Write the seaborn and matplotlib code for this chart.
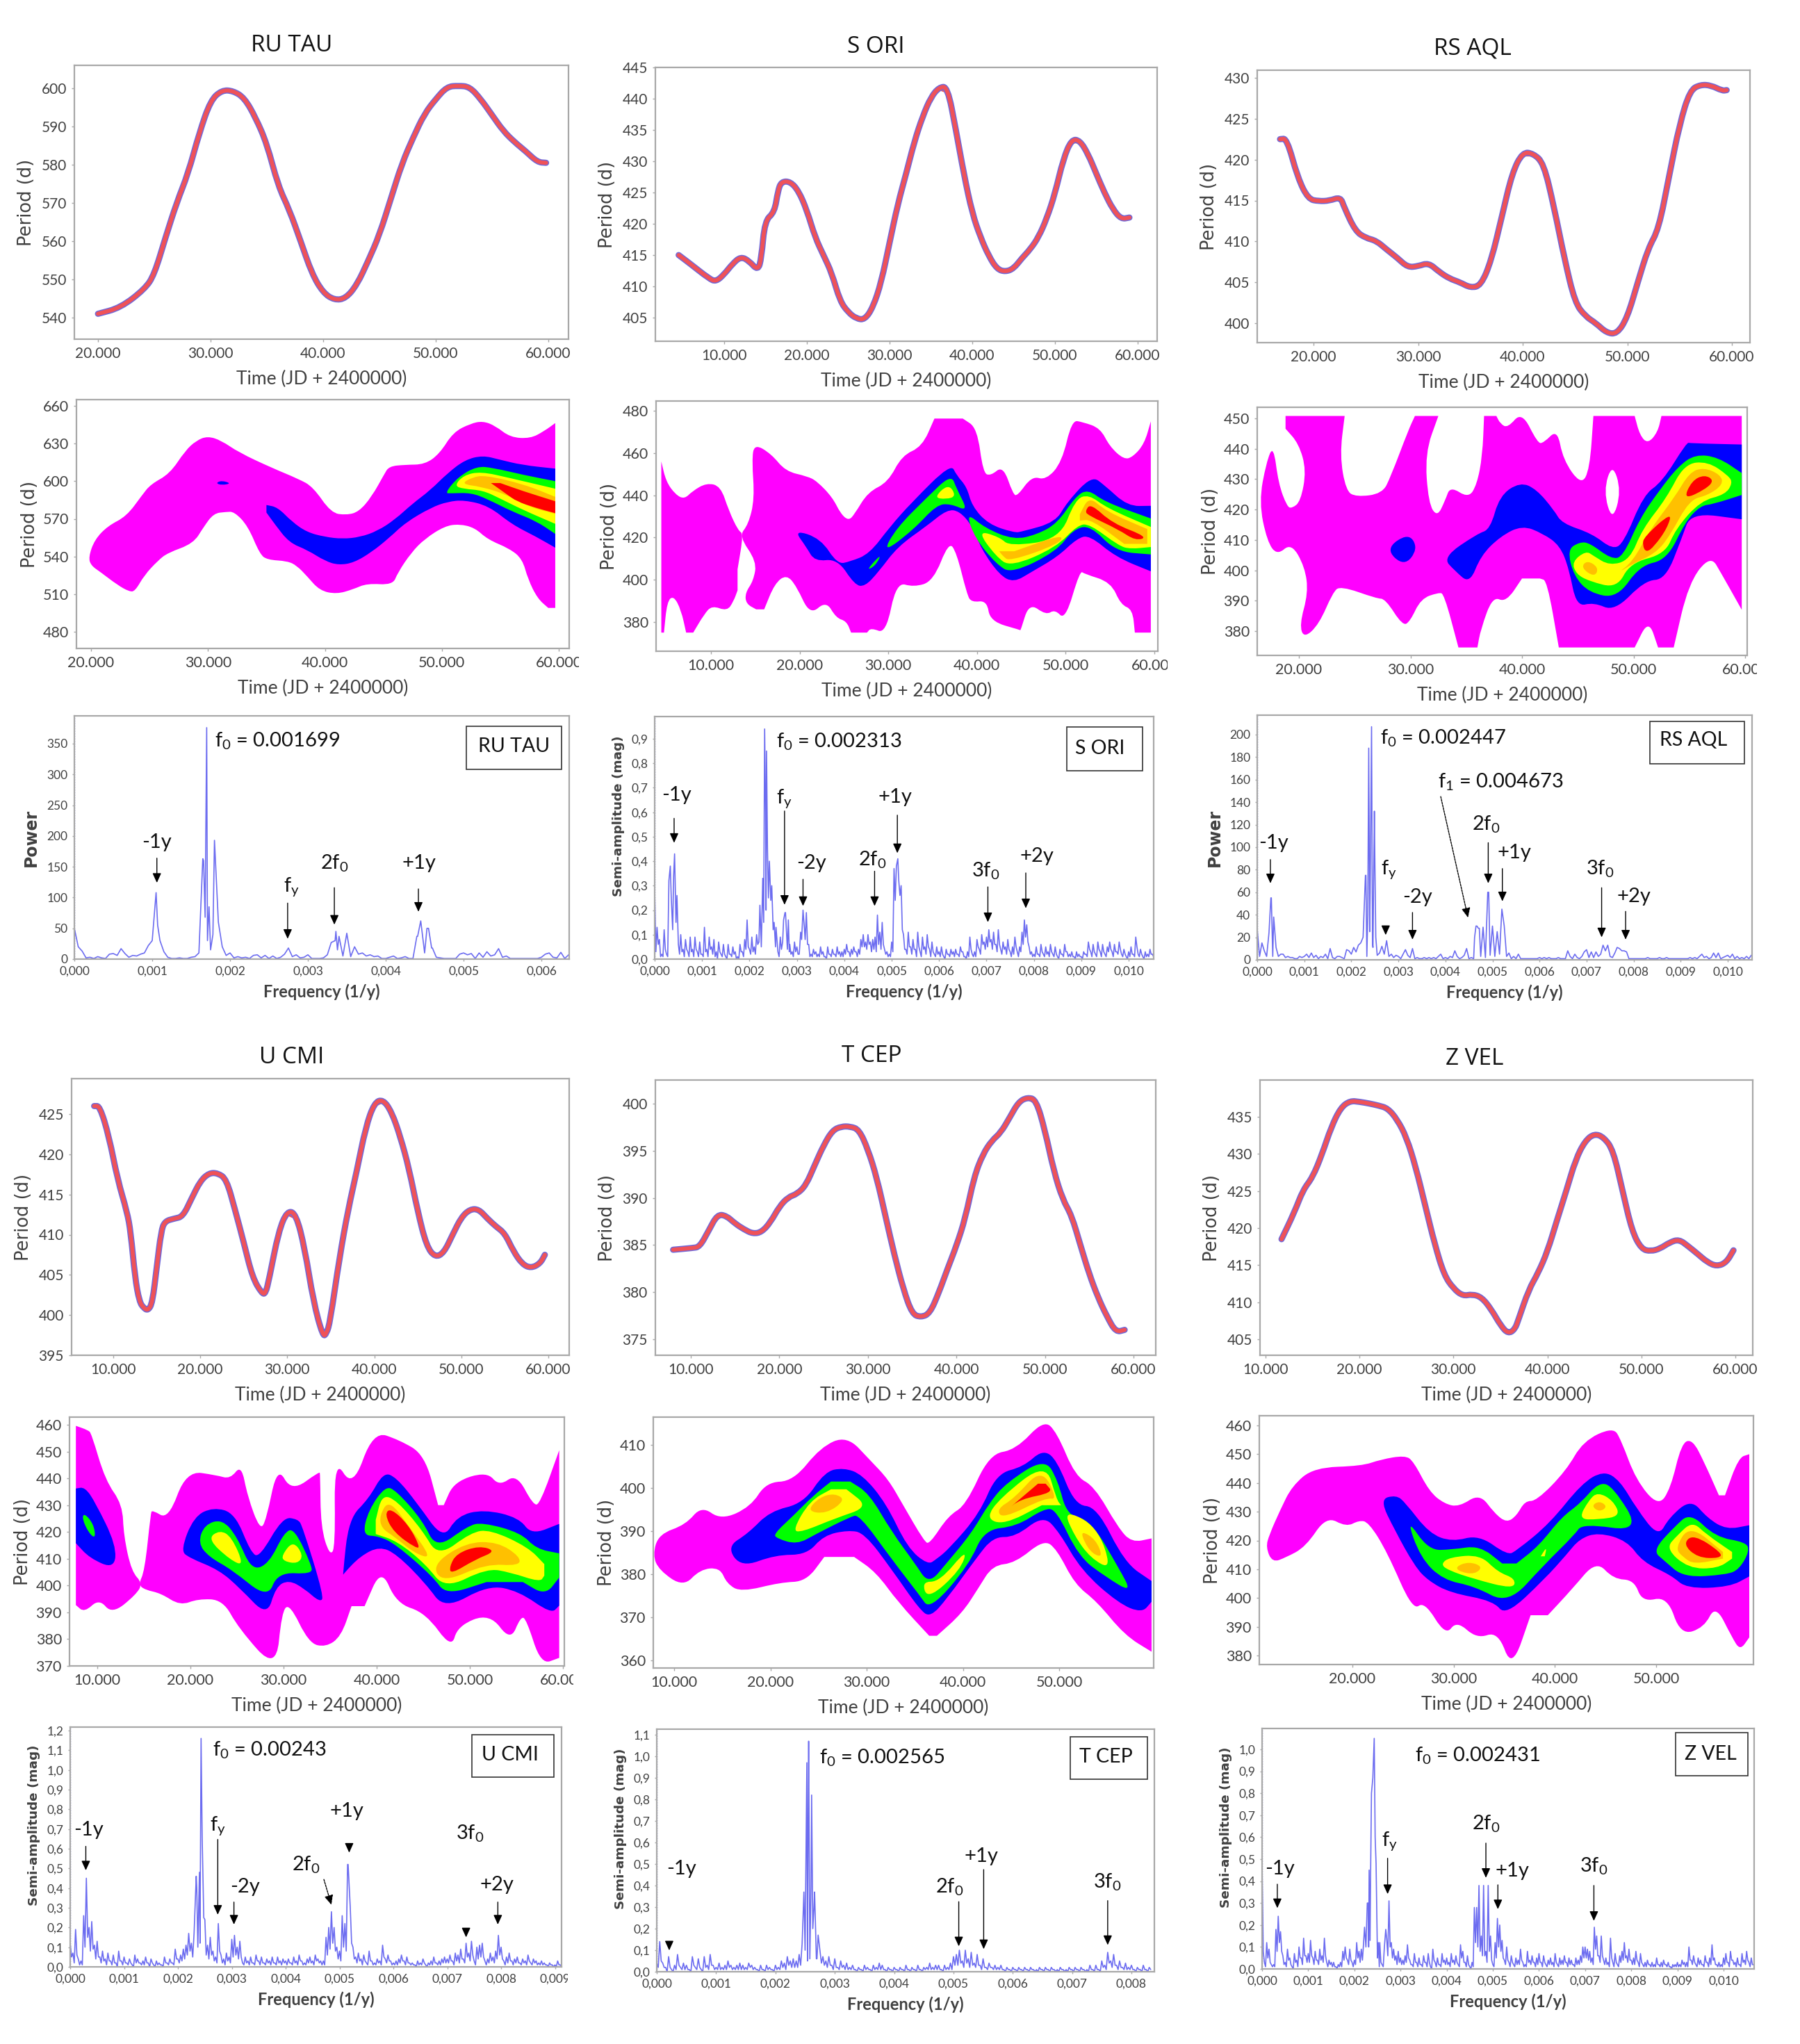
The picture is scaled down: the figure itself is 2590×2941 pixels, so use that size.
import numpy as np
import pandas as pd
import matplotlib
matplotlib.use("Agg")
import matplotlib.pyplot as plt
import seaborn as sns
from matplotlib.path import Path
from matplotlib.patches import PathPatch, Rectangle
from matplotlib.ticker import FuncFormatter

W, H = 2590, 2941
STARS = ["RU TAU", "S ORI", "RS AQL", "U CMI", "T CEP", "Z VEL"]

# ---------- O-C / period curves: (time in thousands, period) ----------
P_RU = [(20,541),(22,543),(24,547.5),(25,552),(26,561),(27,570),(28,578),(29,588),(30,596),(31,599),(32,599),(33,597),(34,592),(35,585),(36,575),(37,568),(38,560),(39,552),(40,547),(41,545),(42,545.5),(43,549),(44,555),(45,562),(46,571),(47,580),(48,587),(49,593),(50,597),(51,600),(52,600.5),(53,600),(54,597),(55,593),(56,589),(57,586),(58,583.5),(59,581),(59.8,580.5)]
P_SO = [(4.5,415),(6,413.5),(8,411.5),(9,411),(10,412),(11,413.5),(12,414.5),(13,414),(14,413),(14.5,415),(15,420),(16,422),(16.5,425),(17,426.5),(18,426.5),(19,425),(20,422),(21,418),(22,415),(23,412),(24,408),(25,406),(26,405),(27,405),(28,407),(29,411),(30,417),(31,423),(32,428),(33,433),(34,437),(35,440),(36,441.5),(37,441),(38,435),(39,428),(40,422),(41,418),(42,415),(43,413),(44,412.5),(45,413),(46,414.5),(47,416),(48,418),(49,421),(50,425),(51,430),(52,433),(53,433),(54,431),(55,428),(56,425),(57,422.5),(58,421),(59,421)]
P_RS = [(16.8,422.5),(17.5,422),(18.5,418),(19.5,415.5),(20.5,415),(21.5,415),(22.5,415.2),(23,414),(24,411.5),(25,410.5),(26,410),(27,409),(28,408),(29,407),(30,407),(31,407.2),(32,406.3),(33,405.5),(34,405),(35,404.5),(36,405),(37,408),(38,413),(39,418),(40,420.5),(41,420.5),(42,419),(43,414),(44,408),(45,403),(46,401),(47,400),(48,399),(49,399),(50,401),(51,405),(52,409),(53,412),(54,418),(55,424),(56,428),(57,429),(58,429),(59,428.5),(59.5,428.5)]
P_UC = [(7.8,426),(8.5,425.5),(9.5,422),(10.5,417),(11.5,413),(12,410),(12.5,405),(13,402),(13.5,401),(14,400.8),(14.5,402),(15,406),(15.5,410),(16,411.5),(17,412),(18,412.5),(19,414.5),(20,416.5),(21,417.5),(22,417.5),(23,416.5),(24,413),(25,409),(26,405),(27,403),(27.5,403),(28,405),(29,410),(30,412.5),(31,412),(32,408),(33,402),(34,398),(34.5,398),(35,400),(36,407),(37,413),(38,418),(39,423),(40,426),(41,426.5),(42,425),(43,422),(44,418),(45,413),(46,409),(47,407.5),(48,408),(49,410),(50,412),(51,413),(52,413),(53,412),(54,411),(55,410),(56,408),(57,406.5),(58,406),(59,406.5),(59.6,407.5)]
P_TC = [(8,384.5),(10,384.7),(11,385),(12,386.5),(13,388),(14,388),(15,387.3),(16,386.7),(17,386.3),(18,386.5),(19,387.5),(20,389),(21,390),(22,390.5),(23,391.5),(24,393.5),(25,395.5),(26,397),(27,397.5),(28,397.5),(29,397),(30,395),(31,392),(32,388),(33,384),(34,380.5),(35,378),(36,377.5),(37,378),(38,380),(39,382.5),(40,385),(41,388),(42,392),(43,394.5),(44,396),(45,397),(46,398.5),(47,400),(48,400.5),(49,400),(50,397),(51,393),(52,390),(53,388),(54,385),(55,382),(56,379.5),(57,377.5),(58,376),(59,376)]
P_ZV = [(11.7,418.5),(13,422),(14,425),(15,427),(16,430),(17,433.5),(18,436),(19,437),(20,437),(21,436.8),(22,436.5),(23,436),(24,434.5),(25,432),(26,428),(27,423),(28,418),(29,414),(30,412),(31,411),(32,411),(33,410.5),(34,409),(35,407),(35.8,406),(36.5,406.5),(37,408),(38,411.5),(39,414),(40,417),(41,421),(42,425),(43,429),(44,431.5),(45,432.5),(46,432),(47,430),(48,425),(49,420),(50,417.5),(51,417),(52,417.3),(53,418),(54,418.3),(55,417.5),(56,416.5),(57,415.5),(58,415),(59,415.5),(59.8,417)]

# ---------- wavelet map contours: (time in thousands, period), per level ----------
M, B, G, Y, O, R, X = "#ff00ff", "#0000ff", "#00ff00", "#ffff00", "#ffc000", "#ff0000", "#ffffff"
W_RU = [
 (M,[(19.9,540.3),(20.4,553),(21.5,564),(23,573),(24.3,588),(25.2,597.5),(26.7,607),(28,623),(29,631.5),(30,634.8),(31.2,631.5),(32.8,622.5),(35.4,611),(37.6,602),(39,594),(40.5,577),(41.8,574),(42.9,577),(44,588.5),(45,604),(45.6,611),(46.9,613),(48.5,614.5),(49.8,623),(51,637.7),(52.4,645),(53.5,647),(54.6,643.5),(55.9,636),(57.5,635),(58.7,640),(59.7,646.3),(59.7,499),(59.1,499),(58.2,507.5),(57.4,522),(56.8,537),(55.7,546),(54,553.7),(52.8,562),(51.5,565),(50.2,563),(48.6,553.7),(47.4,542.5),(46.3,528),(45.6,518.7),(43.7,518),(42.4,514),(41,511),(39.6,514),(38.5,524),(37.6,532),(36.7,536),(35.2,538),(34.4,544),(33.4,563),(32.3,574),(31.5,575),(30.5,573),(29.6,563),(28.6,551),(26.7,543),(25.7,536),(24.6,525),(23.8,514),(23.2,513),(22.2,518),(20.9,527),(20.1,533)]),
 (B,[(35,581),(36,578),(37.2,568),(38.5,560),(40,556),(41.5,554.5),(43,556),(44.5,561),(46,570),(47.5,582),(49,593),(50.5,606),(52,616),(53.5,619.5),(55,617),(57,613),(59.7,610),(59.7,547),(58,556),(56,566),(54,579),(52,584),(50.5,583),(49,578),(47,567),(45.5,555),(44,544),(42.5,536),(41.2,534),(40,537),(38.5,545),(37,552),(35.8,565),(35,575)]),
 (B,[(30.8,598.5),(31.2,600),(31.8,598.3),(31.2,597.2)]),
 (G,[(50.5,592),(51.5,603),(53,610.5),(54.5,610),(57,605),(59.7,600),(59.7,558),(58,568),(56,576),(54,585),(52.5,590),(51,590.5)]),
 (Y,[(51.3,597),(52,604),(53.5,606.5),(56,602),(59.7,594),(59.7,566),(57,577),(55,586),(53.5,592),(52,594)]),
 (O,[(52,598),(52.7,602.5),(54,603.5),(57,597),(59.7,587.5),(59.7,574),(57.5,580),(55.5,589),(53.5,595)]),
 (R,[(54.2,598.5),(55,598.5),(57,592),(59.7,584),(59.7,574.5),(58,579),(56.5,584),(55.5,590)]),
]
W_SO = [
 (M,[(4.4,456),(5,447),(6,441),(7,439),(8,442),(9.5,445),(11,443),(12,433),(13,424),(13.5,420),(13,405),(13,395),(12.5,390),(11.7,386),(10.2,387),(9.2,383),(8,375),(7.2,375),(6.6,385),(5.8,391),(5.1,388),(4.7,375),(4.4,375)]),
 (M,[(13.5,420),(14.9,409),(14.7,400),(14,394),(14.1,389),(15.1,386),(16,386),(17.2,397),(18.5,401),(19.7,396),(21.2,385.5),(22.9,388.5),(24.1,382.5),(25.2,380),(25.8,375),(27.6,375),(28.2,377),(29.7,377.5),(31,396),(32.9,397),(35,401),(36.7,415),(37.7,411),(38.8,395),(39.5,390),(41,389),(41.8,381),(44.5,377),(45,377.5),(46,387),(47.7,384),(48.8,385.5),(50,384),(51.5,401.5),(52.4,402),(54.9,398),(56.2,389),(57.4,385),(57.8,375),(59.6,375),(59.6,475),(58.8,465),(57.6,459),(56.5,458),(55,463.5),(53.8,471),(52,474),(50.7,473),(49.5,457),(47.8,448.5),(46.2,448),(44.7,441),(44,442),(42.9,452),(41.6,450),(40.7,453),(39.9,470),(38.4,476.3),(35.2,476.3),(33.7,464),(31.6,458),(29.9,447),(27.8,441),(26.3,432),(25.5,429),(24.6,432),(23.6,439),(22,446),(20.7,449),(18.5,452),(16.8,459),(15.1,462.5),(14.7,455),(14.8,439),(14.2,427)]),
 (B,[(19.9,422),(22.3,418.5),(24.2,409),(25.8,409.3),(27.9,413.5),(30.2,425),(32.8,437),(36.6,452),(37.7,449),(38.8,443.5),(39.6,435),(41.4,427),(44,423),(45.4,423.5),(48.6,428),(50.3,437),(52.8,447),(54.5,444),(57,436),(59.6,435),(59.6,404),(55.8,411),(52.9,419.5),(51.2,418.5),(49,411),(46.2,404),(44.2,400),(42.5,403.5),(40.6,414.5),(39.4,425),(38,431.5),(36.5,432),(34.2,425),(31.2,415.5),(29,404.5),(27.4,398),(26.1,399),(24.2,408.5),(21.9,409.5),(20.8,415.5)]),
 (G,[(30,415.5),(31.2,425),(34.2,438),(36.8,447.5),(37.7,442.5),(38.6,434),(37,435.5),(35.3,434),(32.8,424)]),
 (G,[(27.8,405.5),(29,411),(28.5,407)]),
 (Y,[(35.5,439.5),(36.7,444),(37.4,440),(36.5,438.5)]),
 (G,[(39.2,429.5),(41.1,424.5),(44.1,420),(46.7,422),(49,427.5),(51,438),(52.6,441.5),(54.8,436.5),(59.6,429),(59.6,412),(55.8,414.5),(52.9,424),(50.8,422.5),(48.6,413.5),(44.3,405),(42.2,408.5),(40,419.5)]),
 (Y,[(40.6,421.5),(42.5,420),(44.2,417),(48.9,421),(51,436),(52.7,439),(55,433.5),(59.6,425),(59.6,415.5),(57.4,415),(55.8,417),(52.9,425),(51.2,424.5),(48.6,415.5),(44.2,408),(42.2,412)]),
 (O,[(42.5,413.5),(44.2,413.5),(48.9,420),(48.6,416.5),(44.2,410),(43,411.5)]),
 (O,[(51.6,431),(52.8,437.5),(54.9,432),(59.2,424),(59.2,417),(56.6,417),(53.2,427),(51.6,428)]),
 (R,[(52.4,432.5),(53.1,434.5),(55.4,427),(58.6,421),(57.7,419.5),(55.8,424),(52.9,430)]),
]
W_RS = [
 (M,[(16.6,422.5),(17.1,434.4),(17.7,438.8),(18.2,429),(18.9,422),(19.4,421),(20.1,423.7),(20.5,432.8),(19.9,441.2),(18.8,446.6),(18.8,450.8),(24.1,450.8),(23.8,438.2),(24.3,427.5),(25.3,424.8),(27.3,426),(28.3,432),(29.7,445),(30.4,450.8),(32.5,450.8),(31.5,438.2),(31.7,423.7),(32.4,419),(33.1,423),(33.7,426.7),(35.1,424.8),(35.9,429),(36.4,438.2),(36.6,450.8),(37.7,450.8),(38.1,448.5),(38.8,447.5),(40,450.5),(41.3,443),(42,442.4),(43.1,444.7),(43.8,436.6),(45.2,430),(46,435),(46.4,450.8),(50.1,450.8),(50.6,445),(51.3,442.6),(52.1,445.8),(52.5,450.8),(59.7,450.8),(59.7,387),(58,397.7),(56.8,402.7),(55,394),(53.6,374.6),(52.2,374.6),(51.3,381.5),(50.1,374.6),(43.3,374.6),(42.3,393.9),(41.6,397.3),(40,397.3),(38.6,390.5),(37.4,390),(36.4,381),(36,374.6),(34.3,374.6),(33.1,390),(32.4,392),(31,390),(30,384),(29.2,383),(27.8,389.7),(26.7,391),(24,394),(23,391.6),(21.8,383),(20.6,379),(20.2,383),(20.7,392.4),(20.4,400.8),(19.3,407.6),(18.1,406),(17.2,410.7)]),
 (X,[(48.1,433),(48.7,426),(48.1,418.5),(47.5,426)]),
 (B,[(28.2,407),(29.7,411),(30.4,407),(29.4,402.7)]),
 (B,[(33.4,404.6),(35.8,411.4),(37.1,414.5),(38.1,423.7),(39.8,428),(41.3,426),(42.8,420),(43.8,415.6),(46.2,412),(48,408),(49.2,410.7),(50.9,423.7),(52.6,429.8),(54.6,440.5),(55.6,441.6),(59.7,441.4),(59.7,416.8),(55.6,417.6),(54.3,410),(52.8,398.5),(50.9,395.8),(48.4,388),(46.5,389.3),(45,389.7),(44.2,400),(43.3,407.6),(41.8,411.8),(40,413.9),(38.1,410.7),(36.4,404.6),(35.3,397.3),(34.1,400)]),
 (G,[(44.3,406),(45.2,408.8),(46.2,408.4),(47.9,404.6),(49.1,406),(50.6,416.8),(52.3,426),(54,433.6),(55.6,437.4),(57.6,436.6),(59.7,432),(59.7,424.8),(57.3,422),(56,420.6),(54.6,415.2),(52.9,404.6),(50.6,400.8),(48.5,392.4),(46.2,393.3),(44.8,398.5)]),
 (Y,[(44.7,402.7),(45.7,405.7),(46.5,404.6),(47.9,402.3),(49.6,404.6),(50.9,413.7),(52.9,423.7),(54.6,433.6),(56.6,435),(58.3,431.3),(58.7,428.6),(58,425),(56,422),(53.9,413.7),(52.6,406),(49.9,402),(48.4,395.4),(46.2,396.6),(45,399)]),
 (O,[(48.9,400),(50,403.8),(51.6,413.7),(53.6,423.7),(55,431.3),(56.3,433.2),(57.6,431.3),(57.8,428.2),(56.6,424.8),(55,422),(53.3,412),(51.9,406),(50,402.3)]),
 (O,[(45.5,400.8),(45.9,402.7),(46.7,400.8),(46.4,398.5)]),
 (R,[(50.9,408.4),(51.2,411.5),(53.1,417.6),(52.9,413.7),(51.9,408.4),(51.2,406.5)]),
 (R,[(54.8,424.4),(55.3,429),(56.3,430.9),(57,429.4),(56.3,426.7)]),
]
W_UC = [
 (M,[(7.7,459.6),(8.9,457.8),(9.5,454.8),(10.9,440),(12.5,430),(12.9,418.5),(13.7,406.3),(14.6,401),(13.9,396.4),(11.7,390.8),(10.2,394),(8.7,390.8),(7.7,392.7)]),
 (M,[(14.6,401),(15.1,407.2),(15.7,424.5),(16.1,427.6),(17.7,427),(19.7,440.6),(22.6,441),(24.2,440.3),(25.4,443),(26.2,433.2),(27.4,423),(28.2,426.3),(29.4,441.4),(31,436.6),(33.5,441.4),(33.9,439.2),(34.1,423),(34.9,413.5),(35.5,417.6),(35.7,443),(37.5,439.4),(39.7,454.8),(42.4,453.5),(45,447),(46.6,430),(47.2,430),(48.6,438),(51.6,441.4),(53.2,438),(55,440),(56.7,431.6),(57.7,433.2),(59.6,450.5),(59.6,373),(57.7,372.7),(56.2,385.5),(55.4,387.2),(54.2,381.3),(52,388),(49,384.6),(47.8,379),(45.2,389),(42.3,394),(40.5,403.2),(38.7,392.3),(37.3,392.3),(36.1,382),(34.5,378),(32.7,380),(30.8,391),(29.8,388),(28.8,372.7),(25.4,383.8),(23.4,393.3),(20.9,394.6),(18.9,393.3),(16.9,396.8),(15.3,398.5)]),
 (B,[(7.7,436.2),(8.7,435.8),(9.9,429.7),(11.7,416),(11.5,408),(9.3,410.6),(7.7,415.8)]),
 (G,[(8.7,426.2),(9.5,422.8),(9.7,418.5),(9.1,420),(8.5,424.5)]),
 (B,[(19.3,414.2),(20.5,424.6),(22.5,428.2),(24.7,425.5),(26.4,414),(27.6,412.6),(29.8,423.7),(31.4,424),(32.2,419.4),(34,398.7),(33.7,395),(32.2,398.7),(30.6,401.2),(29.2,398.7),(28,391),(25.4,398.7),(23,405.5),(20.2,410.2)]),
 (G,[(21.1,416),(21.7,422),(23.4,423.5),(25,417.6),(26.6,407.6),(28.4,409.4),(30,418.5),(31.2,419.4),(32.7,409),(32.6,404.8),(29.6,404),(28,397.5),(24.6,405.5),(22.2,410.7)]),
 (Y,[(22.3,416.8),(23.2,419.8),(24.4,417.2),(25.4,409),(24.2,410.3)]),
 (Y,[(30,411.5),(31,415.4),(31.9,411.5),(31.4,408.7),(30.2,409.3)]),
 (B,[(36.5,406.3),(37.2,423.5),(39.1,432.3),(40.7,440.6),(42.2,439.2),(44.4,430.5),(47,419.8),(48.8,425.4),(51.6,427.6),(55,425),(56.8,420.2),(59.6,423),(59.6,392.5),(58.4,390.8),(55.2,397.2),(51.8,398.9),(47.6,393.3),(45.2,401),(42.3,410.6),(40.3,413.6),(38.3,410.6),(36.7,405.5)]),
 (G,[(38.8,419.8),(39.3,428),(40.9,435.6),(42.3,434),(44.8,424.5),(46.6,416),(49.6,421.5),(51.6,422.8),(55.2,419.4),(57.2,414.2),(59.6,412),(59.6,403),(58,397.8),(55.7,401.3),(51.8,401.3),(47.8,398),(45.8,404),(42.3,414.3),(40.3,418.1)]),
 (Y,[(39.9,424.5),(40.7,432.3),(42.3,430.5),(44.8,421),(46.8,413),(50,419),(52.4,419.8),(56,414.2),(58,408),(58,403.7),(57.2,402),(54.4,404.6),(51.6,405.5),(47.6,400.7),(45.2,408),(42.3,415.8),(39.9,419.2)]),
 (O,[(40.5,426),(41.5,430),(43.5,421.6),(45.4,411.8),(44,412.7),(42,418),(40.7,421.5)]),
 (O,[(46.6,408),(49.6,415),(52.8,415.5),(55,411),(54.8,407.8),(51.6,407.4),(47.6,402.7)]),
 (R,[(41.1,426),(41.7,427.7),(43.3,422.5),(44.4,415.6),(44,414.8),(42,420)]),
 (R,[(48,407.4),(48.8,411.7),(50.9,414.2),(52.3,412.6),(50.5,409.5),(48.3,405.3)]),
]
W_TC = [
 (M,[(8,384.6),(8.7,389),(11.1,391.6),(12.9,395),(15,393.3),(17.8,396),(19.7,400.8),(22.4,402.4),(25.2,408.8),(27.9,411),(30.3,406.4),(32.2,401.8),(33.8,396),(35.8,388.7),(36.7,388),(38.5,393.3),(40.4,397),(42.8,406.7),(45.5,409.3),(48.2,414.5),(49.8,412),(51.7,403.5),(53.7,399.7),(56,391.6),(57.6,388),(59.6,388.3),(59.6,362),(56.8,366.3),(54,373.3),(51.7,378),(49.8,385),(48.2,387),(45.5,383),(43.2,381.5),(41.6,376.7),(39.8,371),(37.3,365.7),(36.5,365.7),(33.4,373.3),(31,380),(28.7,384),(25.6,384),(23.6,379),(20.9,378),(17.3,376.4),(15.6,378),(14.6,381),(12.7,380.7),(10.9,378),(8.7,381)]),
 (B,[(16,386.3),(17.8,389.7),(20.1,394.3),(23.3,397),(25.6,403),(27.6,404.2),(29.6,402.4),(32,396),(34.2,387),(36.2,383),(37.3,383.8),(38.8,386.7),(41.6,394.2),(43.6,402.4),(46.2,405),(48.2,408),(49.8,405.6),(51.7,397),(54,394.3),(56.8,383.6),(59.6,378.4),(59.6,373.6),(58.4,371.7),(56,374),(52.5,381),(50.1,389),(48.2,392.5),(45.5,389),(43.2,388),(41.2,383),(38.5,375),(36.7,371),(35.3,372.8),(32.6,381),(29.9,388.5),(28,389.8),(25.6,388.6),(23.6,385),(20.5,384.3),(17.3,382.5)]),
 (G,[(20.7,389.8),(22.4,393.6),(24.4,398),(26.3,401.5),(28.3,401.5),(30.3,398),(32.6,390),(34.9,383),(36.5,379),(38.4,383),(40.8,389.5),(42.8,396.4),(44.8,401.2),(48.2,405.5),(49.8,401.3),(51,394.3),(53.3,391.5),(56,381.9),(57,377),(54.8,379.7),(52.1,384.7),(49.8,393.7),(48.2,394.5),(45.5,391.3),(42.4,389.4),(40.4,382),(36.9,373.5),(35.3,376),(32.6,383.5),(29.5,392.4),(28,392.7),(24.9,389.5),(22.8,387.4),(20.9,388.4)]),
 (Y,[(22.7,391),(24.2,396.6),(26.3,399.7),(27.9,399.7),(29.5,395.8),(26.7,393),(23.6,390.3)]),
 (O,[(24.2,395),(25.2,397.6),(26.6,398.4),(27.4,397),(25.8,394.5)]),
 (Y,[(36.1,378),(37.7,379),(40,384.5),(39.4,380.7),(36.7,375.4)]),
 (Y,[(42.9,393.5),(44.3,398),(48.2,404),(49.6,398),(50.2,396),(48.2,396),(44.6,392.3)]),
 (O,[(43.9,395.3),(45.5,398),(48,403),(49.4,398),(48.2,397.3),(44.6,393.7)]),
 (R,[(45.1,395.8),(47.8,401),(48.6,401),(48.9,399),(46.2,397.4)]),
 (Y,[(51,393.7),(53.7,390.4),(55,382.6),(53.3,384.2),(51.7,389)]),
 (O,[(52.5,389.5),(53.7,387.8),(54.3,384.6),(53.5,385),(52.7,387.4)]),
]
W_ZV = [
 (M,[(11.6,417.7),(11.9,422.5),(12.9,430.5),(14.2,438.6),(16.5,444.6),(20.6,446),(22.8,448),(25,449),(26.1,446.5),(27.6,437.7),(29.1,433.3),(30.6,432.3),(32.5,435),(34,429.8),(35.2,427),(36.2,429),(37.1,433.3),(38.4,435),(41,444.3),(42.9,453.7),(45.5,458),(46.6,453.7),(48.1,441.7),(50.1,434),(51.4,439.3),(52.5,452),(53.6,453.7),(54.8,446.5),(56.2,435.7),(56.8,435.7),(58.1,447.3),(59.2,450),(59.2,386.3),(58.3,383),(57.4,387),(55.9,395.4),(54.6,390.3),(52.5,389),(51,399),(48.8,399.5),(47.7,405.5),(45.8,407),(44,411),(41.7,403),(39.3,394),(37.6,394),(35.8,379),(34.3,387),(32.3,386.6),(30.4,391),(29.1,388.7),(27.2,397.5),(25.8,398.3),(23.5,415),(21.7,425),(20.6,426.5),(19.3,425.2),(17.4,426.8),(15.4,418.5),(13.5,414.5),(12.2,413.3)]),
 (B,[(23.1,433),(24.3,435),(25.4,432.2),(27.6,423.4),(29.9,420.2),(32.5,421),(35.1,416),(36.5,417.7),(39.5,426.5),(42.5,438.5),(44.7,443),(46.4,440),(48.1,431.3),(50.1,423.3),(51.4,428),(53.4,432.8),(55.1,428),(57,424.5),(59.2,425.3),(59.2,407.5),(57,404.3),(53.3,404),(51.4,408),(48.8,412.8),(47,419.3),(44.4,422),(42.5,420),(41,414.5),(38.8,406.3),(35.4,396),(33.6,399),(29.9,402),(27.6,406.3),(26.1,412),(24.3,423.2)]),
 (G,[(25.8,425),(27.6,417.7),(29.9,417),(32.5,417.3),(34.8,412),(36.2,412),(38.4,418.5),(40.6,427.5),(42.5,433),(44.3,439),(45.8,437),(47.5,425),(43.2,425.2),(41.7,421),(38.8,411.2),(35.4,400.3),(32.1,404),(29.1,407),(26.9,414.5)]),
 (G,[(50.1,417),(51.8,424.2),(53.5,428),(55.9,421.8),(58.5,419.3),(59,416),(58.1,410.5),(56.6,408.4),(53,408),(51,412.8)]),
 (Y,[(29,411.8),(29.9,413.9),(32.5,414.2),(34.3,409.4),(35.8,406.7),(35.4,404),(32.1,406.7),(29.7,409.6)]),
 (O,[(30.4,410.8),(31.5,412.2),(32.6,410.8),(32,408.7),(30.8,409.2)]),
 (Y,[(42.7,428.2),(43.4,433.6),(44.3,436),(45.6,433.6),(46.1,429),(44.3,427.6)]),
 (O,[(43.8,432),(44.4,433.3),(45,431.8),(44.4,430.4)]),
 (Y,[(38.6,414.5),(39.1,417),(39,414.5)]),
 (Y,[(51.4,417),(52.2,421.7),(53.6,425.4),(55.1,421.8),(57.5,416),(57.5,413.7),(55.9,410.8),(53.3,411.2)]),
 (O,[(52.2,417.7),(53.6,423.3),(56.6,416),(56.6,413.7),(54,412.3),(52.8,414.3)]),
 (R,[(53,418.5),(53.9,421),(56.1,416.2),(56,414.2),(54.2,414.6)]),
]

# ---------- spectra: amplitude on a 0.00005 grid, one row per 0.001, plus sharp peaks (freq*1e5, value) ----------
S_RU = [50,20,13,2,3,1,4,2,1,8,9,6,17,9,3,6,5,8,10,22,
        30,108,30,12,3,1,1,2,1,1,3,4,10,163,376,15,193,60,20,6,
        10,2,4,2,3,1,6,7,2,6,1,5,1,3,8,18,4,7,2,3,
        7,1,1,1,2,7,27,30,37,5,42,4,20,8,10,5,7,4,5,1,
        1,3,5,1,2,4,1,1,37,62,10,50,18,3,2,1,1,1,1,8,
        10,7,9,1,10,3,12,5,7,17,3,5,1,1,1,1,1,1,1,1,
        3,8,10,3,2,11,1,7]
K_RU = [(107,55),(168,68),(171,30),(173,85),(178,40),(166,160),(336,45),(338,15),(441,37),(445,62),(453,50),(459,18)]
S_SO = [28,13,8,2,12,2,32,25,34,15,6,10,4,8,3,9,4,9,3,7,
        2,13,4,9,5,8,3,7,2,6,1,6,2,5,3,1,6,3,8,16,
        4,9,5,10,7,5,15,20,25,24,12,5,3,9,7,19,4,6,3,7,
        5,2,8,15,19,6,2,4,3,2,5,3,1,5,2,4,2,5,3,3,
        4,6,3,4,5,3,4,8,10,7,10,7,8,9,18,11,15,4,3,2,
        7,37,38,32,30,10,4,11,5,8,4,11,3,9,5,10,4,7,2,5,
        3,5,1,4,2,4,3,4,2,5,3,1,3,9,2,3,8,4,10,7,
        9,12,8,11,6,12,4,7,5,8,3,5,9,3,5,11,16,14,5,3,
        2,5,2,6,2,5,3,6,2,5,1,4,2,6,3,2,3,1,3,2,
        1,3,2,7,3,6,2,7,3,6,2,5,7,3,6,3,7,2,4,1,
        3,5,2,9,2,4,1,3,2,4,2]
V_SO = [3,6,1,1,4,1,12,9,14,4,2,3,1,4,1,3,1,4,1,2,
        1,3,1,4,2,1,0,3,1,2,0,2,1,2,0,0,3,1,4,5,
        2,3,2,6,3,2,6,8,9,10,4,1,1,4,3,5,1,2,1,3,
        2,1,4,8,6,1,1,2,1,1,2,1,0,2,1,2,1,2,1,1,
        2,3,1,2,3,1,2,5,5,4,6,3,4,3,6,4,6,2,1,1,
        3,24,20,26,12,4,2,5,2,4,1,5,1,4,2,5,1,3,1,2,
        1,2,0,2,1,2,1,2,1,3,1,0,1,4,1,1,5,2,6,4,
        5,7,4,6,3,6,2,4,2,4,1,2,5,1,3,6,9,7,2,1,
        1,2,1,3,1,2,1,3,1,2,0,2,1,3,1,1,1,0,1,1,
        0,2,1,4,1,3,1,4,1,3,1,3,4,1,3,2,4,1,2,0,
        1,2,1,5,1,2,0,1,1,2,1]
K_SO = [(33,38),(38,12),(42,43),(47,26),(222,22),(228,33),(232,94),(234,60),(236,85),(238,45),(242,40),(247,30),(252,15),(254,8),(256,13),(272,16),(276,19),(282,16),(284,3),(308,11),(313,20),(513,41)]
S_RS = [27,3,15,8,3,24,55,38,11,3,5,5,2,3,2,2,1,1,3,2,
        3,5,2,6,2,4,1,3,2,5,1,10,2,1,3,3,2,1,9,8,
        5,11,7,13,15,20,75,40,60,14,90,4,6,12,5,17,3,5,2,4,
        3,1,5,9,4,2,10,1,2,1,1,2,1,2,1,2,1,3,5,1,
        2,1,3,2,8,3,1,2,4,10,1,2,1,30,28,3,29,2,60,4,
        30,3,25,5,45,30,3,6,1,3,1,5,1,1,1,1,1,1,1,1,
        2,1,2,1,2,1,1,1,2,1,1,1,8,3,1,5,2,1,3,7,
        9,2,7,2,7,3,5,13,8,13,3,2,6,11,10,8,8,7,1,1,
        1,1,1,1,1,1,2,1,1,1,1,2,1,1,2,1,1,1,1,1,
        1,1,1,1,2,1,2,1,3,5,2,3,1,2,6,2,6,1,2,3,
        4,2,5,1,3,1,2,1,3,1,4]
K_RS = [(29,55),(33,3),(231,75),(233,3),(237,188),(239,25),(243,207),(246,11),(249,132),(252,20),(462,20),(467,30),(472,28),(492,60),(494,20)]
S_UC = [12,7,19,4,3,26,45,20,23,11,13,5,8,4,7,3,6,2,8,3,
        5,2,4,1,6,4,2,3,5,2,4,1,3,2,1,5,2,4,2,9,
        4,6,9,11,17,12,17,40,48,66,24,11,15,8,5,22,6,4,7,5,
        14,16,10,13,2,5,3,5,2,6,3,5,2,4,3,5,2,5,3,4,
        3,4,2,5,3,6,3,2,4,5,3,6,4,3,3,15,20,28,20,10,
        8,26,22,52,30,10,5,7,4,6,2,8,3,2,4,3,11,4,6,3,
        2,3,4,6,3,5,2,2,1,3,2,4,1,2,3,5,2,3,4,5,
        4,6,3,7,6,9,4,12,7,13,3,10,11,12,3,4,7,5,8,16,
        10,3,5,7,3,4,5,2,4,3,6,2,4,3,2,3,2,1,2,1,
        1,3,1]
V_UC = [5,2,6,1,1,10,15,8,9,4,5,2,3,1,3,1,2,0,3,1,
        2,1,2,0,2,2,1,1,2,0,2,0,1,1,0,2,1,2,1,4,
        2,3,4,6,8,5,8,15,20,22,6,4,6,3,2,8,2,1,3,2,
        5,6,4,5,1,2,1,2,1,3,1,2,1,2,1,2,1,2,1,2,
        1,2,1,2,1,3,1,1,2,2,1,3,2,1,1,6,9,12,8,4,
        3,10,8,20,12,4,2,3,1,3,1,3,1,1,2,1,5,2,3,1,
        1,1,2,3,1,2,1,1,0,1,1,2,0,1,1,2,1,1,2,2,
        2,3,1,3,2,4,2,5,3,6,1,4,5,5,1,2,3,2,4,6,
        4,1,2,3,1,2,2,1,2,1,3,1,2,1,1,1,1,0,1,0,
        0,1,0]
K_UC = [(234,46),(237,10),(243,116),(241,12),(248,25),(516,52)]
S_TC = [4,14,4,2,7,1,3,8,2,4,3,1,7,2,6,1,7,3,8,3,
        2,4,2,3,5,3,2,3,4,3,2,4,3,2,1,3,1,3,2,1,
        3,2,5,4,7,5,6,5,8,13,10,60,40,30,6,10,7,5,7,3,
        6,2,5,3,4,2,3,1,2,1,3,2,1,3,2,4,3,1,2,1,
        2,1,2,1,3,1,2,1,3,1,2,2,4,2,3,3,1,3,2,4,
        7,8,10,5,10,6,9,4,8,3,6,2,4,2,3,2,3,1,2,1,
        2,1,2,1,2,1,2,1,1,2,1,2,1,2,1,1,2,1,1,2,
        1,2,1,2,1,1,3,1,3,1,5,3,9,5,8,3,5,2,4,2,
        3,1,2,1,3,1,2]
V_TC = [2,5,2,0,2,0,1,3,1,1,1,0,3,1,2,0,2,1,3,1,
        1,1,1,1,2,1,1,1,1,1,1,2,1,1,0,1,0,1,1,0,
        1,1,2,1,3,2,2,2,3,5,3,5,2,2,2,4,3,2,3,1,
        2,1,2,1,1,1,1,0,1,0,1,1,0,1,1,1,1,0,1,0,
        1,0,1,0,1,0,1,0,1,0,1,1,1,1,1,1,0,1,1,1,
        3,3,4,2,4,2,3,2,3,1,2,1,2,1,1,1,1,0,1,0,
        1,0,1,0,1,0,1,0,0,1,0,1,0,1,0,0,1,0,0,1,
        0,1,0,1,0,0,1,0,1,0,2,1,4,2,3,1,2,1,1,1,
        1,0,1,0,1,0,1]
K_TC = [(248,37),(253,97),(254,5),(256,107),(258,6),(261,82),(263,20),(266,37),(269,6),(272,17)]
S_ZV = [47,3,12,9,2,2,18,24,17,6,3,9,5,1,7,4,10,5,14,6,
        7,13,5,8,4,9,6,14,3,4,3,3,1,2,3,8,10,4,9,3,
        4,12,8,9,12,10,30,40,50,60,30,12,2,10,14,31,12,9,6,8,
        5,4,6,11,4,2,7,3,5,2,6,3,7,1,9,3,5,2,7,4,
        5,3,7,4,6,2,11,8,3,6,1,3,28,28,38,15,38,8,38,15,
        2,12,23,20,13,4,10,3,6,2,5,4,9,3,2,8,4,6,3,5,
        7,3,6,2,4,5,3,7,2,5,4,6,3,5,4,2,5,4,6,10,
        10,9,8,5,19,15,6,15,4,5,3,14,3,7,2,6,8,12,6,9,
        4,5,8,3,7,2,3,4,2,3,2,5,2,3,4,2,3,1,2,2,
        3,2,4,3,3,10,4,6,2,5,4,2,6,3,5,11,5,2,3,2,
        5,7,3,8,4,3,5,2,7,4,8,3,5,2]
V_ZV = [8,1,5,3,1,1,8,12,8,2,1,4,2,0,3,1,5,2,6,3,
        3,6,2,4,2,4,3,6,1,2,1,1,0,1,1,4,5,2,4,1,
        2,5,3,4,5,5,8,8,10,12,8,3,1,4,6,10,5,4,2,3,
        2,2,3,5,2,1,3,1,2,1,3,1,3,0,4,1,2,1,3,2,
        2,1,3,2,3,1,5,3,1,2,0,1,12,10,8,6,6,3,8,4,
        1,5,10,8,5,2,4,1,3,1,2,2,4,1,1,3,2,3,1,2,
        3,1,3,1,2,2,1,3,1,2,2,3,1,2,2,1,2,2,3,5,
        5,4,3,2,9,6,3,6,2,2,1,5,1,3,1,3,4,5,3,4,
        2,2,4,1,3,1,1,2,1,1,1,2,1,1,2,1,1,0,1,1,
        1,1,2,1,1,4,2,3,1,2,2,1,3,1,2,4,2,1,1,1,
        2,3,1,4,2,1,2,1,3,2,4,1,2,1]
K_ZV = [(222,19),(228,30),(231,10),(232,45),(234,13),(237,80),(240,87),(243,105),(247,48),(250,5),(252,12),(254,1),(268,18)]

# ---------- spectrum annotations ----------
F_TXT = {
 "RU TAU": [("f$_0$ = 0.001699",.0018,354,"left"),("-1y",.00106,190,"center"),("f$_y$",.00279,117,"center"),("2f$_0$",.00334,156,"center"),("+1y",.00443,156,"center")],
 "S ORI": [("f$_0$ = 0.002313",.00256,.888,"left"),("-1y",.00046,.669,"center"),("f$_y$",.00274,.657,"center"),("-2y",.00331,.392,"center"),("2f$_0$",.0046,.406,"center"),("+1y",.00507,.662,"center"),("3f$_0$",.00699,.359,"center"),("+2y",.00806,.419,"center")],
 "RS AQL": [("f$_0$ = 0.002447",.00261,197,"left"),("f$_1$ = 0.004673",.00384,158,"left"),("-1y",.00034,104,"center"),("f$_y$",.0028,80,"center"),("-2y",.0034,55.5,"center"),("2f$_0$",.00486,120,"center"),("+1y",.00546,95,"center"),("3f$_0$",.00728,81,"center"),("+2y",.00801,56,"center")],
 "U CMI": [("f$_0$ = 0.00243",.00265,1.10,"left"),("-1y",.00034,.694,"center"),("f$_y$",.00274,.718,"center"),("-2y",.00325,.406,"center"),("2f$_0$",.00438,.518,"center"),("+1y",.00514,.79,"center"),("3f$_0$",.00742,.676,"center"),("+2y",.00792,.418,"center")],
 "T CEP": [("f$_0$ = 0.002565",.00274,.992,"left"),("-1y",.00041,.479,"center"),("2f$_0$",.00494,.393,"center"),("+1y",.00547,.536,"center"),("3f$_0$",.00759,.414,"center")],
 "Z VEL": [("f$_0$ = 0.002431",.00332,.97,"left"),("-1y",.00039,.457,"center"),("f$_y$",.00276,.583,"center"),("2f$_0$",.00486,.662,"center"),("+1y",.00542,.446,"center"),("3f$_0$",.00719,.467,"center")],
}
F_ARW = {
 "RU TAU": [(.00106,164,.00106,124),(.00274,91,.00274,33),(.00334,116,.00334,56),(.00442,114,.00442,77)],
 "S ORI": [(.00041,.575,.00041,.475),(.00274,.605,.00274,.222),(.00313,.326,.00313,.217),(.00464,.359,.00464,.217),(.00512,.588,.00512,.433),(.00703,.295,.00703,.151),(.00783,.352,.00783,.208)],
 "RS AQL": [(.00028,89,.00028,68),(.00273,28,.00273,22),(.0033,42,.0033,18),(.00491,104,.00491,68),(.00521,81,.00521,52),(.00732,64,.00732,20),(.00783,43,.00783,18)],
 "U CMI": [(.00029,.612,.00029,.49),(.00274,.647,.00274,.265),(.00304,.329,.00304,.215),(.00518,.618,.00518,.58),(.00735,.188,.00735,.15),(.00794,.329,.00794,.215)],
 "T CEP": [(.00021,.135,.00021,.099),(.00509,.325,.00509,.118),(.00551,.474,.00551,.105),(.0076,.33,.0076,.124)],
 "Z VEL": [(.00033,.386,.00033,.277),(.00272,.504,.00272,.341),(.00485,.573,.00485,.415),(.00511,.383,.00511,.272),(.00719,.38,.00719,.219)],
}
F_DASH = {"RS AQL": (.0039,145,.00448,37.5), "U CMI": (.00471,.444,.00485,.315)}
F_BOX = {"RU TAU": (.00504,.00626,308,378,.00565,346), "S ORI": (.0087,.0103,.768,.947,.0094,.86),
         "RS AQL": (.00835,.01036,174,212,.00927,195), "U CMI": (.00746,.00898,.965,1.179,.00817,1.076),
         "T CEP": (.00697,.00827,.893,1.089,.00757,.996), "Z VEL": (.00896,.01052,.881,1.076,.00972,.979)}

# ---------- panel layout in reference pixels: box, then two x anchors, two y anchors ----------
L_P = {"RU TAU": ((107,94,818,488),(20,141,60,789),(600,127,540,457)),
       "S ORI": ((943,97,1665,491),(10,1042,60,1637),(445,97,405,457)),
       "RS AQL": ((1809,101,2518,493),(20,1890,60,2492),(430,112,400,465)),
       "U CMI": ((103,1552,819,1950),(10,163,60,789),(425,1603,395,1950)),
       "T CEP": ((943,1554,1663,1950),(10,994,60,1631),(400,1588,375,1927)),
       "Z VEL": ((1813,1554,2522,1950),(10,1821,60,2497),(435,1607,405,1927))}
L_W = {"RU TAU": ((110,575,819,933),(20,131,60,804),(660,584,480,909)),
       "S ORI": ((944,577,1666,937),(10,1023,60,1661),(480,591,380,895)),
       "RS AQL": ((1809,586,2514,943),(20,1869,60,2511),(450,602,380,908)),
       "U CMI": ((100,2039,812,2397),(10,140,60,810),(460,2050,370,2397)),
       "T CEP": ((940,2039,1660,2400),(10,970,50,1524),(410,2079,360,2389)),
       "Z VEL": ((1812,2037,2523,2395),(20,1946,50,2383),(460,2051,380,2382))}
L_S = {"RU TAU": ((107,1030,819,1380),(0,107,.006,779),(0,1380,350,1070)),
       "S ORI": ((942,1031,1660,1380),(0,942,.010,1624),(0,1380,.9,1063)),
       "RS AQL": ((1809,1029,2521,1381),(0,1809,.010,2486),(0,1381,200,1057)),
       "U CMI": ((101,2485,808,2830),(0,101,.008,721),(0,2830,1.2,2490)),
       "T CEP": ((945,2488,1661,2837),(0,945,.008,1628),(0,2837,1.1,2496)),
       "Z VEL": ((1816,2487,2524,2833),(0,1816,.010,2480),(0,2833,1.0,2517))}

T_PX = {"RU TAU": [20,30,40,50,60], "S ORI": [10,20,30,40,50,60], "RS AQL": [20,30,40,50,60],
        "U CMI": [10,20,30,40,50,60], "T CEP": [10,20,30,40,50,60], "Z VEL": [10,20,30,40,50,60]}
T_PY = {"RU TAU": list(range(540,601,10)), "S ORI": list(range(405,446,5)), "RS AQL": list(range(400,431,5)),
        "U CMI": list(range(395,426,5)), "T CEP": list(range(375,401,5)), "Z VEL": list(range(405,436,5))}
T_WX = {"RU TAU": [20,30,40,50,60], "S ORI": [10,20,30,40,50,60], "RS AQL": [20,30,40,50,60],
        "U CMI": [10,20,30,40,50,60], "T CEP": [10,20,30,40,50], "Z VEL": [20,30,40,50]}
T_WY = {"RU TAU": list(range(480,661,30)), "S ORI": list(range(380,481,20)), "RS AQL": list(range(380,451,10)),
        "U CMI": list(range(370,461,10)), "T CEP": list(range(360,411,10)), "Z VEL": list(range(380,461,10))}
T_SX = {"RU TAU": 6, "S ORI": 10, "RS AQL": 10, "U CMI": 9, "T CEP": 8, "Z VEL": 10}
T_SY = {"RU TAU": list(range(0,351,50)), "S ORI": [i/10 for i in range(10)], "RS AQL": list(range(0,201,20)),
        "U CMI": [i/10 for i in range(13)], "T CEP": [i/10 for i in range(12)], "Z VEL": [i/10 for i in range(11)]}
Y_SLAB = {"RU TAU": "Power", "S ORI": "Semi-amplitude (mag)", "RS AQL": "Power",
          "U CMI": "Semi-amplitude (mag)", "T CEP": "Semi-amplitude (mag)", "Z VEL": "Semi-amplitude (mag)"}
TITLE_XY = {"RU TAU": (420,64), "S ORI": (1260,66), "RS AQL": (2119,69), "U CMI": (420,1521), "T CEP": (1254,1519), "Z VEL": (2122,1522)}
CLIP_W = {"RU TAU": 833, "S ORI": 1680, "RS AQL": 2528, "U CMI": 825}

PERIODS = dict(zip(STARS, [P_RU, P_SO, P_RS, P_UC, P_TC, P_ZV]))
MAPS = dict(zip(STARS, [W_RU, W_SO, W_RS, W_UC, W_TC, W_ZV]))
SPEC = dict(zip(STARS, [(S_RU,K_RU,[]),(S_SO,K_SO,V_SO),(S_RS,K_RS,[]),(S_UC,K_UC,V_UC),(S_TC,K_TC,V_TC),(S_ZV,K_ZV,V_ZV)]))

sns.set_theme(style="white")
plt.rcParams["font.family"] = ["Lato", "DejaVu Sans"]
plt.rcParams["mathtext.fontset"] = "custom"
plt.rcParams["mathtext.rm"] = "Lato"
plt.rcParams["mathtext.default"] = "regular"

fig = plt.figure(figsize=(W/100, H/100), dpi=100, facecolor="white")
TXT, SPN = "#404040", "#a8a8a8"


def make_ax(layout):
    (l, t, r, b), (xa, pa, xb, pb), (ya, qa, yb, qb) = layout
    ax = fig.add_axes([l/W, 1-b/H, (r-l)/W, (b-t)/H])
    kx = (xb-xa)/(pb-pa)
    ky = (yb-ya)/(qb-qa)
    ax.set_xlim(xa+(l-pa)*kx, xa+(r-pa)*kx)
    ax.set_ylim(ya+(b-qa)*ky, ya+(t-qa)*ky)
    for s in ax.spines.values():
        s.set_color(SPN); s.set_linewidth(1.6)
    ax.tick_params(length=3, width=1, color=SPN, labelcolor=TXT, bottom=True, left=True, pad=5)
    return ax


def clip_ticks(ax, right_px):
    from matplotlib.transforms import Bbox
    box = Bbox([[0, 0], [right_px, H]])
    for t in ax.get_xticklabels():
        t.set_clip_box(box); t.set_clip_on(True)


def blob(ax, pts, colour):
    n = len(pts)
    exp = []
    for i, p in enumerate(pts):
        a, c = pts[i-1], pts[(i+1) % n]
        sharp = p[0] == a[0] or p[0] == c[0] or p[1] == a[1] or p[1] == c[1]
        if sharp:
            exp.extend([p, p])
        else:
            # control point pushed out so that the curve runs through the read contour point
            q = (p[0] + (2*p[0]-a[0]-c[0])/6, p[1] + (2*p[1]-a[1]-c[1])/6)
            exp.append(q)
    arr = np.array(exp, float)
    mids = (arr + np.roll(arr, -1, axis=0)) / 2
    verts = [mids[-1]]
    codes = [Path.MOVETO]
    for k in range(len(arr)):
        verts += [arr[k], mids[k]]
        codes += [Path.CURVE3, Path.CURVE3]
    ax.add_patch(PathPatch(Path(np.array(verts), codes), facecolor=colour, edgecolor="none", lw=0))


def smooth_line(ax, xs, ys, colour, lw, z):
    src = np.column_stack([xs, ys]).astype(float)
    arr = src.copy()
    arr[1:-1] = src[1:-1] + (2*src[1:-1] - src[:-2] - src[2:]) / 6
    mids = (arr[:-1] + arr[1:]) / 2
    verts = [arr[0], mids[0]]
    codes = [Path.MOVETO, Path.LINETO]
    for k in range(1, len(arr)-1):
        verts += [arr[k], mids[k]]
        codes += [Path.CURVE3, Path.CURVE3]
    verts.append(arr[-1]); codes.append(Path.LINETO)
    ax.add_patch(PathPatch(Path(np.array(verts), codes), facecolor="none", edgecolor=colour, lw=lw, zorder=z, capstyle="round", joinstyle="round"))


for star in STARS:
    # period curve
    ax = make_ax(L_P[star])
    d = pd.DataFrame(PERIODS[star], columns=["t", "p"])
    sns.lineplot(data=d, x="t", y="p", ax=ax, color="#ef5258", lw=2.0, estimator=None, sort=False)
    smooth_line(ax, d["t"], d["p"], "#7068d8", 6.4, 3)
    smooth_line(ax, d["t"], d["p"], "#ef5258", 4.2, 4)
    ax.set_xticks(T_PX[star]); ax.set_yticks(T_PY[star])
    ax.xaxis.set_major_formatter(FuncFormatter(lambda v, _: f"{int(v)}.000"))
    ax.tick_params(labelsize=15)
    ax.set_xlabel("Time (JD + 2400000)", fontsize=19, color=TXT, labelpad=10)
    ax.set_ylabel("Period (d)", fontsize=18.5, color=TXT, family="DejaVu Sans", labelpad=6)
    tx, ty = TITLE_XY[star]
    fig.text(tx/W, 1-(ty+1)/H, star, ha="center", va="center", fontsize=24, color="#111111", family="Open Sans")

    # wavelet map
    ax = make_ax(L_W[star])
    for colour, pts in MAPS[star]:
        blob(ax, pts, colour)
    ax.set_xticks(T_WX[star]); ax.set_yticks(T_WY[star])
    ax.xaxis.set_major_formatter(FuncFormatter(lambda v, _: f"{int(v)}.000"))
    ax.tick_params(labelsize=15.5)
    ax.set_xlabel("Time (JD + 2400000)", fontsize=19, color=TXT, labelpad=10)
    ax.set_ylabel("Period (d)", fontsize=18.5, color=TXT, family="DejaVu Sans", labelpad=4)
    if star in CLIP_W:
        clip_ticks(ax, CLIP_W[star])

    # spectrum
    ax = make_ax(L_S[star])
    base, peaks, valleys = SPEC[star]
    scale = 1.0 if star in ("RU TAU", "RS AQL") else 0.01
    merged = {5*i: v for i, v in enumerate(base)}
    peak_f = [k for k, _ in peaks]
    for i, v in enumerate(valleys):
        key = 5*i + 2.5
        if not any(abs(key-k) < 2 for k in peak_f):
            merged[key] = v
    merged.update(dict(peaks))
    keys = sorted(merged)
    sp = pd.DataFrame({"f": np.array(keys)*1e-5, "a": np.array([merged[k] for k in keys])*scale})
    sns.lineplot(data=sp, x="f", y="a", ax=ax, color="#6c6cf0", lw=1.2, estimator=None, sort=False)
    ax.axvline(0, color="#5a5ac8", lw=1.0, ls=":")
    ax.set_xticks([i/1000 for i in range(T_SX[star]+1)])
    ax.set_yticks(T_SY[star])
    ax.xaxis.set_major_formatter(FuncFormatter(lambda v, _: f"{v:.3f}".replace(".", ",")))
    if scale < 1:
        ax.yaxis.set_major_formatter(FuncFormatter(lambda v, _: f"{v:.1f}".replace(".", ",")))
    else:
        ax.yaxis.set_major_formatter(FuncFormatter(lambda v, _: f"{int(v)}"))
    ax.tick_params(labelsize=12.5, length=2)
    ax.set_xlabel("Frequency (1/y)", fontsize=17, fontweight="bold", color=TXT, labelpad=7)
    is_power = Y_SLAB[star] == "Power"
    ax.set_ylabel(Y_SLAB[star], fontsize=17 if is_power else 13.2, fontweight="bold", color=TXT,
                  family="DejaVu Sans", labelpad=7)
    if not is_power:
        ax.yaxis.label.set_y(0.59)
    if star == "U CMI":
        clip_ticks(ax, 817)
    for s, x, y, ha in F_TXT[star]:
        ax.text(x, y, s, fontsize=21, ha=ha, va="center", color="#111111")
    for x0, y0, x1, y1 in F_ARW[star]:
        ax.annotate("", xy=(x1, y1), xytext=(x0, y0),
                    arrowprops=dict(arrowstyle="-|>,head_length=0.55,head_width=0.25", mutation_scale=15, color="black", lw=1.0, shrinkA=0, shrinkB=0))
    if star in F_DASH:
        x0, y0, x1, y1 = F_DASH[star]
        ax.annotate("", xy=(x1, y1), xytext=(x0, y0),
                    arrowprops=dict(arrowstyle="-|>,head_length=0.55,head_width=0.25", mutation_scale=15, color="black", lw=1.0, ls=(0, (2, 1)), shrinkA=0, shrinkB=0))
    x0, x1, y0, y1, xt, yt = F_BOX[star]
    ax.add_patch(Rectangle((x0, y0), x1-x0, y1-y0, facecolor="white", edgecolor="#333333", lw=1.2, zorder=4))
    ax.text(xt, yt, star, fontsize=20.5, ha="center", va="center", color="#111111", zorder=5)

fig.savefig("out.png", dpi=100, facecolor="white")
